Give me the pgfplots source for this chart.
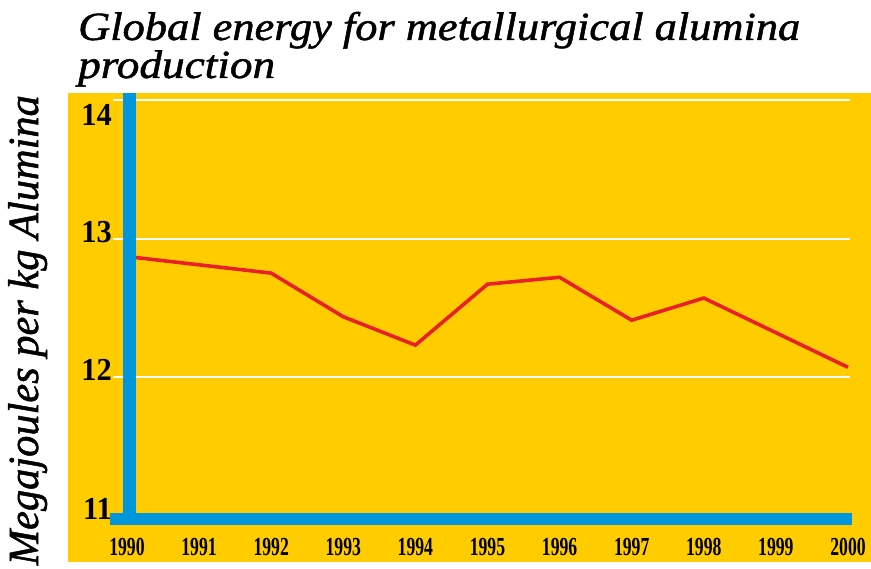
\documentclass[border=0pt]{standalone}
\usepackage{fontspec}
\usepackage{graphicx}
\usepackage{pgfplots}
\pgfplotsset{compat=1.18}
\setmainfont{Liberation Serif}
\newfontfamily\headfont[FakeBold=1.2]{Liberation Serif}
\newfontfamily\yearfont[FakeStretch=0.68]{Liberation Serif}
\newfontfamily\valfont[FakeStretch=0.95]{Liberation Serif}

\definecolor{bgyellow}{HTML}{FFCC00}
\definecolor{axisblue}{HTML}{0096DB}
\definecolor{linered}{HTML}{E8202A}

% years are stored as offsets from 1990
\pgfplotstableread{
yr energy
0  12.87
1  12.81
2  12.75
3  12.435
4  12.23
5  12.67
6  12.72
7  12.41
8  12.57
9  12.32
10 12.07
}\energydata

\begin{document}
\begin{tikzpicture}
\begin{axis}[
  at={(68pt,-93pt)}, anchor=north west,
  scale only axis, width=803pt, height=469pt,
  xmin=-0.818, xmax=10.319,
  ymin=10.664, ymax=14.0505,
  axis background/.style={fill=bgyellow},
  axis line style={draw=none},
  major tick length=0pt,
  tick style={draw=none},
  xtick={0,...,10},
  xticklabels={1990,1991,1992,1993,1994,1995,1996,1997,1998,1999,2000},
  xticklabel style={anchor=base, yshift=7pt, inner sep=0pt,
    font=\yearfont\bfseries\fontsize{26}{26}\selectfont},
  ytick={11,12,13},
  yticklabel style={anchor=base east, xshift=44pt, yshift=-4pt, inner sep=0pt,
    font=\valfont\bfseries\fontsize{32}{32}\selectfont},
  extra y ticks={14},
  extra y tick style={yticklabel style={yshift=-21pt}},
  /pgf/number format/assume math mode=true,
  clip=false,
]
% white grid lines
\draw[white, line width=2pt] (axis cs:-0.194,12) -- (axis cs:10.03,12);
\draw[white, line width=2pt] (axis cs:-0.194,13) -- (axis cs:10.03,13);
\draw[white, line width=2pt] (axis cs:-0.194,14) -- (axis cs:10.03,14);
% small white ticks below the baseline
\pgfplotsinvokeforeach{0,...,10}{
  \fill[white] (axis cs:#1,10.931) ++(-1.5pt,0) rectangle ++(3pt,-10pt);
}
% energy series
\addplot[linered, line width=3.6pt, line join=miter] table[x=yr, y=energy] {\energydata};
% heavy blue axis lines
\fill[axisblue] (axis cs:-0.049,14.0505) rectangle (axis cs:0.132,10.931);
\fill[axisblue] (axis cs:-0.236,11.018) rectangle (axis cs:10.051,10.931);
\end{axis}
% title, two lines
\node[anchor=base west, inner sep=0pt, font=\headfont\itshape\fontsize{40}{40}\selectfont]
  at (78pt,-40pt) {\resizebox{722pt}{\height}{Global energy for metallurgical alumina}};
\node[anchor=base west, inner sep=0pt, font=\headfont\itshape\fontsize{40}{40}\selectfont]
  at (78pt,-78pt) {\resizebox{197pt}{\height}{production}};
% y axis label
\node[anchor=base east, rotate=90, inner sep=0pt,
      font=\headfont\itshape\fontsize{43}{43}\selectfont] at (38pt,-95pt)
  {\resizebox{470pt}{\height}{Megajoules per kg Alumina}};
\pgfresetboundingbox
\useasboundingbox (0,0) rectangle (871pt,-569pt);
\end{tikzpicture}
\end{document}
